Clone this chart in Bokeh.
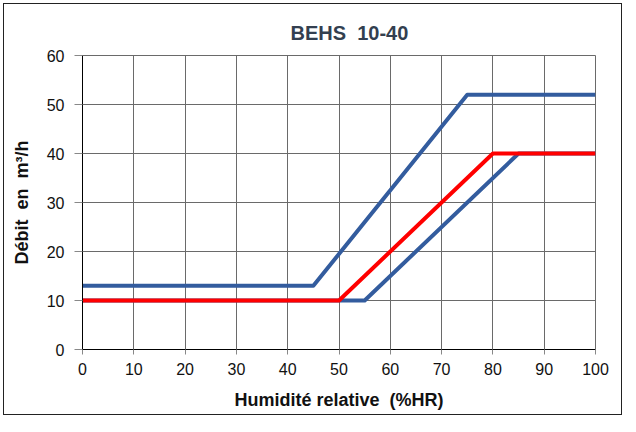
from bokeh.plotting import figure
from bokeh.embed import file_html
from bokeh.resources import INLINE
from bokeh.models import FixedTicker

# Data
hr_upper = [0, 45, 75, 100]
q_upper = [13, 13, 52, 52]
hr_lower = [0, 55, 85, 100]
q_lower = [10, 10, 40, 40]
hr_red = [0, 50, 80, 100]
q_red = [10, 10, 40, 40]
x_ticks = [0, 10, 20, 30, 40, 50, 60, 70, 80, 90, 100]
y_ticks = [0, 10, 20, 30, 40, 50, 60]

NB = "\u00a0"
FONT = "Liberation Sans"
BLUE = "#335C9E"
RED = "#FF0000"
GRID = "#6a6a6a"

p = figure(width=619, height=412, output_backend="svg", toolbar_location=None,
           x_range=(0, 100), y_range=(0, 60),
           min_border_left=78, min_border_right=28, min_border_top=51, min_border_bottom=67,
           margin=(3, 0, 0, 3),
           styles={"border": "1px solid #222222"})

p.title.text = "BEHS" + NB + NB + "10-40"
p.title.align = "left"
p.title.text_font = FONT
p.title.text_font_size = "20px"
p.title.text_font_style = "bold"
p.title.text_color = "#333F50"
p.title.offset = 208
p.title.standoff = 23

p.line(hr_upper, q_upper, line_color=BLUE, line_width=4, line_join="round")
p.line(hr_lower, q_lower, line_color=BLUE, line_width=4, line_join="round")
p.line(hr_red, q_red, line_color=RED, line_width=4, line_join="round")

p.xaxis.ticker = FixedTicker(ticks=x_ticks)
p.yaxis.ticker = FixedTicker(ticks=y_ticks)
for ax in (p.xaxis, p.yaxis):
    ax.axis_line_color = "black"
    ax.axis_line_width = 1
    ax.major_tick_line_color = "#888888"
    ax.minor_tick_line_color = None
    ax.major_tick_in = 0
    ax.major_label_text_font = FONT
    ax.major_label_text_font_size = "16px"
    ax.major_label_text_color = "#111111"
    ax.axis_label_text_font = FONT
    ax.axis_label_text_font_size = "18px"
    ax.axis_label_text_font_style = "bold"
    ax.axis_label_text_color = "#111111"

p.xaxis.major_tick_out = 5
p.yaxis.major_tick_out = 8
p.xaxis.axis_label = "Humidité relative" + NB + NB + "(%HR)"
p.yaxis.axis_label = "Débit" + NB + NB + "en" + NB + NB + "m³/h"
p.xaxis.major_label_standoff = 8
p.yaxis.major_label_standoff = 10
p.xaxis.axis_label_standoff = 12
p.yaxis.axis_label_standoff = 12

p.xgrid.grid_line_color = GRID
p.ygrid.grid_line_color = GRID
p.xgrid.grid_line_width = 1
p.ygrid.grid_line_width = 1
p.outline_line_color = GRID
p.background_fill_color = "white"
p.border_fill_color = "white"

open("out.html", "w").write(file_html(p, INLINE))
